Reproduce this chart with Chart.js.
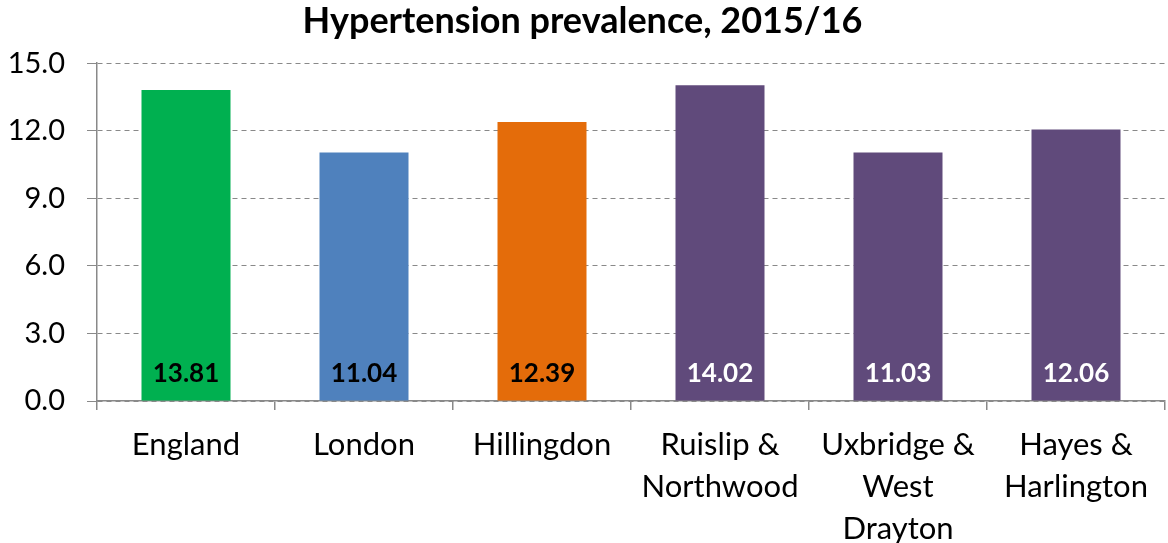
<!DOCTYPE html>
<html><head><meta charset="utf-8">
<script src="https://cdn.jsdelivr.net/npm/chart.js@4"></script>
<style>html,body{margin:0;padding:0;background:#fff}#wrap{width:1168px;height:543px}</style>
</head><body><div id="wrap"><canvas id="c" width="1168" height="543"></canvas></div>
<script>
const categories = [["England"],["London"],["Hillingdon"],["Ruislip &","Northwood"],["Uxbridge &","West","Drayton"],["Hayes &","Harlington"]];
const values = [13.81, 11.04, 12.39, 14.02, 11.03, 12.06];
const yTicks = [0, 3, 6, 9, 12, 15];
const barColors = ["#00B050","#4F81BD","#E46C0A","#604A7B","#604A7B","#604A7B"];
const labelColors = ["#000000","#000000","#000000","#FFFFFF","#FFFFFF","#FFFFFF"];

const valueLabels = {
  id: 'valueLabels',
  afterDatasetsDraw(chart) {
    const ctx = chart.ctx;
    const meta = chart.getDatasetMeta(0);
    ctx.save();
    ctx.font = 'bold 26px Lato';
    ctx.textAlign = 'center';
    ctx.textBaseline = 'middle';
    meta.data.forEach((bar, i) => {
      ctx.fillStyle = labelColors[i];
      ctx.fillText(values[i].toFixed(2), bar.x, bar.base - 27);
    });
    ctx.restore();
  }
};

new Chart(document.getElementById('c'), {
  type: 'bar',
  data: {
    labels: categories,
    datasets: [{ data: values, backgroundColor: barColors, barPercentage: 0.5, categoryPercentage: 1.0 }]
  },
  options: {
    responsive: false,
    animation: false,
    layout: { padding: { left: 0, right: 3, top: 0, bottom: 0 } },
    plugins: {
      legend: { display: false },
      tooltip: { enabled: false },
      title: {
        display: true,
        text: 'Hypertension prevalence, 2015/16',
        color: '#000',
        font: { family: 'Lato', size: 36, weight: 'bold', lineHeight: 1.2 },
        padding: { top: 0, bottom: 20 }
      }
    },
    scales: {
      x: {
        afterFit(scale) { scale.height = 142; },
        grid: { display: true, offset: true, drawOnChartArea: false, drawTicks: true, tickLength: 9, color: '#898989', lineWidth: 1.5 },
        border: { display: true, color: '#898989', width: 1.5 },
        ticks: { color: '#000', font: { family: 'Lato', size: 31, lineHeight: 1.35 }, padding: 14, maxRotation: 0, autoSkip: false }
      },
      y: {
        min: 0, max: 15,
        afterBuildTicks(scale) { scale.ticks = yTicks.map(v => ({ value: v })); },
        afterFit(scale) { scale.width = 97; },
        grid: { color: '#898989', lineWidth: 1, drawTicks: true, tickLength: 10, tickColor: '#898989', tickBorderDash: [] },
        border: { display: true, color: '#898989', width: 1.5, dash: [5, 4] },
        ticks: { color: '#000', font: { family: 'Lato', size: 29 }, padding: 22, callback: v => Number(v).toFixed(1) }
      }
    }
  },
  plugins: [valueLabels]
});
</script></body></html>
